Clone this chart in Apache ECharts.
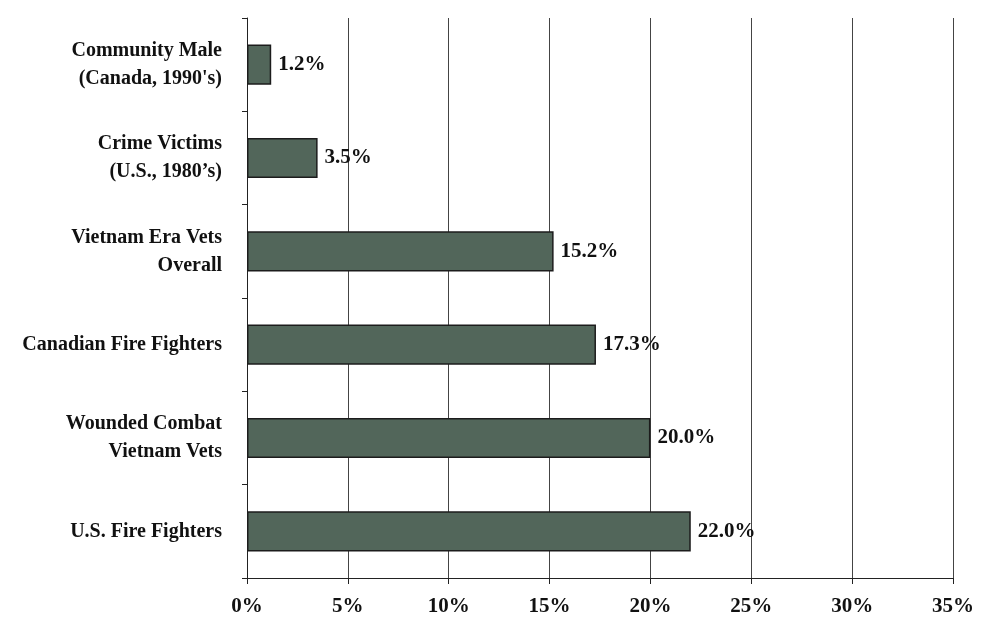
<!DOCTYPE html>
<html>
<head>
<meta charset="utf-8">
<script src="https://cdn.jsdelivr.net/npm/echarts@6/dist/echarts.min.js"></script>
<style>
  * { margin: 0; padding: 0; }
  body { background: #fff; }
</style>
</head>
<body>
<div id="main" style="width: 984px; height: 621px;"></div>
<script>
  // categories top to bottom
  var groups = [
    "Community Male\n(Canada, 1990's)",
    'Crime Victims\n(U.S., 1980\u2019s)',
    'Vietnam Era Vets\nOverall',
    'Canadian Fire Fighters',
    'Wounded Combat\nVietnam Vets',
    'U.S. Fire Fighters'
  ]
  var rates = [1.2, 3.5, 15.2, 17.3, 20.0, 22.0]
  var xTicks = [0, 5, 10, 15, 20, 25, 30, 35]

  var font = 'Liberation Serif'
  var chart = echarts.init(document.getElementById('main'))
  chart.setOption({
    animation: false,
    grid: { left: 247, right: 31, top: 18, bottom: 43 },
    xAxis: {
      type: 'value',
      min: xTicks[0],
      max: xTicks[xTicks.length - 1],
      interval: 5,
      axisLine: { show: true, lineStyle: { color: '#222', width: 1 } },
      axisTick: { show: true, length: 6, lineStyle: { color: '#222' } },
      splitLine: { show: true, lineStyle: { color: '#444', width: 1 } },
      axisLabel: {
        margin: 18,
        fontFamily: font, fontWeight: 'bold', fontSize: 21, color: '#111',
        formatter: function (v) { return v + '%' }
      }
    },
    yAxis: {
      type: 'category',
      inverse: true,
      data: groups,
      axisLine: { show: true, lineStyle: { color: '#222', width: 1 } },
      axisTick: { show: true, length: 5, lineStyle: { color: '#222' } },
      axisLabel: {
        margin: 25,
        align: 'right',
        lineHeight: 28,
        fontFamily: font, fontWeight: 'bold', fontSize: 20, color: '#111'
      }
    },
    series: [{
      type: 'bar',
      data: rates,
      barWidth: '43%',
      itemStyle: { color: '#52665a', borderColor: '#1c1c1c', borderWidth: 1.5 },
      label: {
        show: true,
        position: 'right',
        distance: 7,
        fontFamily: font, fontWeight: 'bold', fontSize: 21, color: '#111',
        formatter: function (p) { return p.value.toFixed(1) + '%' }
      }
    }]
  })
</script>
</body>
</html>
